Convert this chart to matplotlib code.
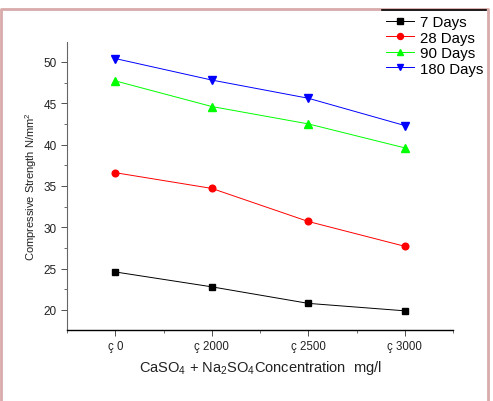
import numpy as np
import matplotlib.pyplot as plt
from matplotlib.lines import Line2D
from matplotlib.ticker import MultipleLocator

plt.rcParams['font.family'] = ['Liberation Sans', 'DejaVu Sans']
plt.rcParams['mathtext.fontset'] = 'custom'
plt.rcParams['mathtext.rm'] = 'Liberation Sans'
plt.rcParams['mathtext.it'] = 'Liberation Sans'

# data
conc_labels = ['ç 0', 'ç 2000', 'ç 2500', 'ç 3000']
days_7 = [24.6, 22.8, 20.8, 19.9]
days_28 = [36.6, 34.7, 30.7, 27.7]
days_90 = [47.7, 44.6, 42.5, 39.6]
days_180 = [50.4, 47.8, 45.6, 42.3]

x = np.arange(len(conc_labels))

fig = plt.figure(figsize=(4.93, 4.02), dpi=100)
ax = fig.add_axes([0.136, 0.177, 0.783, 0.716])

ax.plot(x, days_7, color='black', marker='s', ms=4.2, lw=0.7, label='7 Days')
ax.plot(x, days_28, color='#ff0000', marker='o', ms=4.8, lw=0.7, label='28 Days')
ax.plot(x, days_90, color='#00ff00', marker='^', ms=5.2, lw=0.7, label='90 Days')
ax.plot(x, days_180, color='#0000ff', marker='v', ms=5.2, lw=0.7, label='180 Days')

ax.set_xlim(-0.5, 3.5)
ax.set_ylim(17.6, 52.4)
ax.set_xticks(x)
ax.set_xticklabels(conc_labels)
ax.xaxis.set_minor_locator(MultipleLocator(0.5))
ax.yaxis.set_major_locator(MultipleLocator(5))
ax.yaxis.set_minor_locator(MultipleLocator(2.5))
ax.tick_params(axis='y', which='major', labelsize=8.5)
ax.tick_params(axis='x', which='major', labelsize=8.3)
ax.tick_params(axis='both', which='major', length=4, width=0.6, colors='#333333', labelcolor='#222222')
ax.tick_params(axis='both', which='minor', length=2.5, width=0.6, colors='#555555')

for s in ['top', 'right']:
    ax.spines[s].set_visible(False)
ax.spines['left'].set_color('#666666')
ax.spines['left'].set_linewidth(0.8)
ax.spines['bottom'].set_color('black')
ax.spines['bottom'].set_linewidth(1.0)

ax.set_xlabel(r'CaSO$_4$ + Na$_2$SO$_4$Concentration  mg/l', fontsize=10.5, labelpad=4, color='#222222')
ax.set_ylabel(r'Compressive Strength N/mm$^2$', fontsize=8, labelpad=3, color='#222222')

leg = fig.legend(loc='upper right', bbox_to_anchor=(0.992, 0.975), fontsize=10.8,
                 frameon=False, handlelength=1.9, handletextpad=0.35,
                 labelspacing=0.1, borderaxespad=0, markerscale=0.9)

# pinkish border of the picture and top rule of the legend
fig.add_artist(Line2D([0.002, 0.002, 0.99, 0.99], [0.0, 0.974, 0.974, 0.0],
                      transform=fig.transFigure, color='#d8aaaa', lw=2))
fig.add_artist(Line2D([0.775, 0.985], [0.972, 0.972],
                      transform=fig.transFigure, color='black', lw=1.2))

fig.savefig('out.png', dpi=100)
